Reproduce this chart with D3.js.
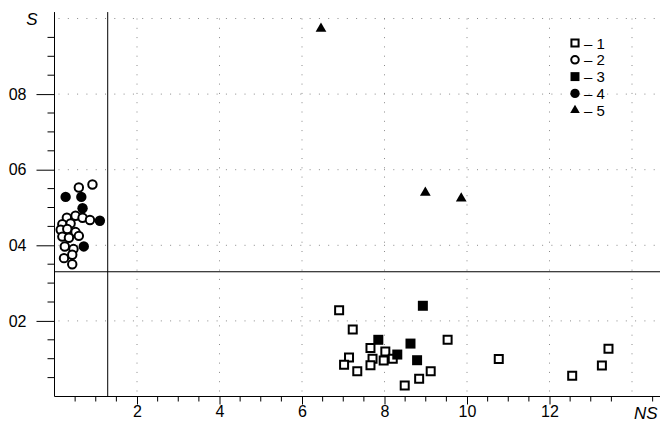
<!DOCTYPE html>
<html>
<head>
<meta charset="utf-8">
<script src="https://cdn.jsdelivr.net/npm/d3@7"></script>
<style>
  body { margin: 0; background: #fff; }
</style>
</head>
<body>
<svg id="chart" width="660" height="424"></svg>
<script>
// Tick values and labels
const xTickValues = [2, 4, 6, 8, 10, 12];
const yTickValues = [0.2, 0.4, 0.6, 0.8];
const yTickLabels = ['02', '04', '06', '08'];
const xAxisTitle = 'NS';
const yAxisTitle = 'S';

// Reference lines
const refX = 1.29;
const refY = 0.33;

// Series 1 - open squares
const s1X = [6.90, 7.23, 7.66, 8.02, 7.14, 7.02, 7.71, 7.66, 7.98, 8.20, 7.34, 8.49, 8.84, 9.12, 9.53, 10.77, 12.55, 13.27, 13.43];
const s1Y = [0.228, 0.177, 0.128, 0.119, 0.103, 0.084, 0.100, 0.083, 0.095, 0.100, 0.067, 0.029, 0.047, 0.067, 0.150, 0.099, 0.055, 0.082, 0.126];

// Series 2 - open circles
const s2X = [0.92, 0.59, 0.30, 0.51, 0.68, 0.86, 0.19, 0.39, 0.15, 0.31, 0.51, 0.19, 0.35, 0.59, 0.25, 0.46, 0.23, 0.43, 0.43];
const s2Y = [0.561, 0.553, 0.473, 0.478, 0.473, 0.467, 0.456, 0.458, 0.441, 0.443, 0.435, 0.423, 0.420, 0.425, 0.397, 0.390, 0.366, 0.375, 0.350];

// Series 3 - filled squares
const s3X = [7.85, 8.93, 8.63, 8.31, 8.79];
const s3Y = [0.150, 0.240, 0.140, 0.111, 0.096];

// Series 4 - filled circles
const s4X = [0.27, 0.65, 0.68, 1.10, 0.71];
const s4Y = [0.528, 0.528, 0.498, 0.465, 0.397];

// Series 5 - filled triangles
const s5X = [6.46, 8.99, 9.86];
const s5Y = [0.973, 0.539, 0.524];

const legendLabels = ['1', '2', '3', '4', '5'];

const FONT = '"Liberation Sans", Arial, sans-serif';
const GRID_COLOR = '#8a8a8a';

const svg = d3.select('#chart');

const x = d3.scaleLinear().domain([0, 2]).range([54.5, 137]);
const y = d3.scaleLinear().domain([0, 1]).range([396.5, 18.5]);

const series = [
  { xs: s1X, ys: s1Y, type: d3.symbolSquare, size: 64, fill: '#fff', stroke: '#000' },
  { xs: s2X, ys: s2Y, type: d3.symbolCircle, size: 56, fill: '#fff', stroke: '#000' },
  { xs: s3X, ys: s3Y, type: d3.symbolSquare, size: 100, fill: '#000', stroke: 'none' },
  { xs: s4X, ys: s4Y, type: d3.symbolCircle, size: 85, fill: '#000', stroke: 'none' },
  { xs: s5X, ys: s5Y, type: d3.symbolTriangle, size: 50, fill: '#000', stroke: 'none' }
];

// Dotted grid
const grid = svg.append('g').attr('class', 'grid');
const gridXs = xTickValues.concat([14]);
grid.selectAll('line.vx')
  .data(gridXs)
  .join('line')
  .attr('x1', d => x(d)).attr('x2', d => x(d))
  .attr('y1', y(1)).attr('y2', y(0))
  .attr('stroke', GRID_COLOR)
  .attr('stroke-width', 1)
  .attr('stroke-dasharray', '1 8.3');
grid.selectAll('line.hy')
  .data(yTickValues.concat([1]))
  .join('line')
  .attr('x1', x(0) + 4).attr('x2', 660)
  .attr('y1', d => y(d)).attr('y2', d => y(d))
  .attr('stroke', GRID_COLOR)
  .attr('stroke-width', 1)
  .attr('stroke-dasharray', '1 8.3');

// Reference lines
svg.append('line')
  .attr('x1', x(refX)).attr('x2', x(refX))
  .attr('y1', y(1.017)).attr('y2', y(0))
  .attr('stroke', '#000').attr('stroke-width', 1);
svg.append('line')
  .attr('x1', x(0)).attr('x2', 660)
  .attr('y1', y(refY)).attr('y2', y(refY))
  .attr('stroke', '#000').attr('stroke-width', 1);

// Y axis
const yAxis = d3.axisLeft(y)
  .tickValues(yTickValues)
  .tickSize(18)
  .tickPadding(10)
  .tickFormat((d, i) => yTickLabels[i]);
const yAxisG = svg.append('g')
  .attr('transform', `translate(${x(0)},0)`)
  .call(yAxis);
yAxisG.select('.domain').remove();
yAxisG.selectAll('line').attr('stroke', '#000');
yAxisG.selectAll('text')
  .attr('font-family', FONT)
  .attr('font-size', 16)
  .attr('fill', '#000');

// Y minor ticks
const yMinor = d3.range(0.05, 1.0, 0.05).filter(v => Math.abs(v * 5 - Math.round(v * 5)) > 0.01);
svg.append('g').selectAll('line')
  .data(yMinor)
  .join('line')
  .attr('x1', x(0) - 7).attr('x2', x(0))
  .attr('y1', d => y(d)).attr('y2', d => y(d))
  .attr('stroke', '#000');

svg.append('line')
  .attr('x1', x(0)).attr('x2', x(0))
  .attr('y1', y(1.017)).attr('y2', y(0))
  .attr('stroke', '#000');

// X axis
const xAxis = d3.axisBottom(x)
  .tickValues(xTickValues)
  .tickSize(8)
  .tickPadding(1)
  .tickFormat(d3.format('d'));
const xAxisG = svg.append('g')
  .attr('transform', `translate(0,${y(0)})`)
  .call(xAxis);
xAxisG.select('.domain').remove();
xAxisG.selectAll('line').attr('stroke', '#000');
xAxisG.selectAll('text')
  .attr('font-family', FONT)
  .attr('font-size', 16)
  .attr('fill', '#000');

const xMinor = d3.range(0.5, 14.6, 0.5).filter(v => v % 2 !== 0);
svg.append('g').selectAll('line')
  .data(xMinor)
  .join('line')
  .attr('x1', d => x(d)).attr('x2', d => x(d))
  .attr('y1', y(0)).attr('y2', y(0) + 5)
  .attr('stroke', '#000');

svg.append('line')
  .attr('x1', x(0)).attr('x2', 660)
  .attr('y1', y(0)).attr('y2', y(0))
  .attr('stroke', '#000');

// Axis titles
svg.append('text')
  .attr('x', x(0) - 17)
  .attr('y', y(1) + 6)
  .attr('text-anchor', 'end')
  .attr('font-family', FONT)
  .attr('font-style', 'italic')
  .attr('font-size', 17)
  .text(yAxisTitle);
svg.append('text')
  .attr('x', x(14) + 2)
  .attr('y', y(0) + 22)
  .attr('font-family', FONT)
  .attr('font-style', 'italic')
  .attr('font-size', 17)
  .text(xAxisTitle);

// Points
series.forEach(s => {
  const sym = d3.symbol().type(s.type).size(s.size);
  svg.append('g').selectAll('path')
    .data(s.xs.map((v, i) => [v, s.ys[i]]))
    .join('path')
    .attr('d', sym)
    .attr('transform', d => `translate(${x(d[0])},${y(d[1])})`)
    .attr('fill', s.fill)
    .attr('stroke', s.stroke)
    .attr('stroke-width', 2);
});

// Legend
const legend = svg.append('g').attr('transform', 'translate(575,43)');
const rowH = 16.8;
series.forEach((s, i) => {
  const row = legend.append('g').attr('transform', `translate(0,${i * rowH})`);
  row.append('path')
    .attr('d', d3.symbol().type(s.type).size(s.size * 0.8))
    .attr('fill', s.fill)
    .attr('stroke', s.stroke)
    .attr('stroke-width', 2);
  row.append('text')
    .attr('x', 9)
    .attr('y', 5.5)
    .attr('font-family', FONT)
    .attr('font-size', 15)
    .text('\u2013 ' + legendLabels[i]);
});
</script>
</body>
</html>
